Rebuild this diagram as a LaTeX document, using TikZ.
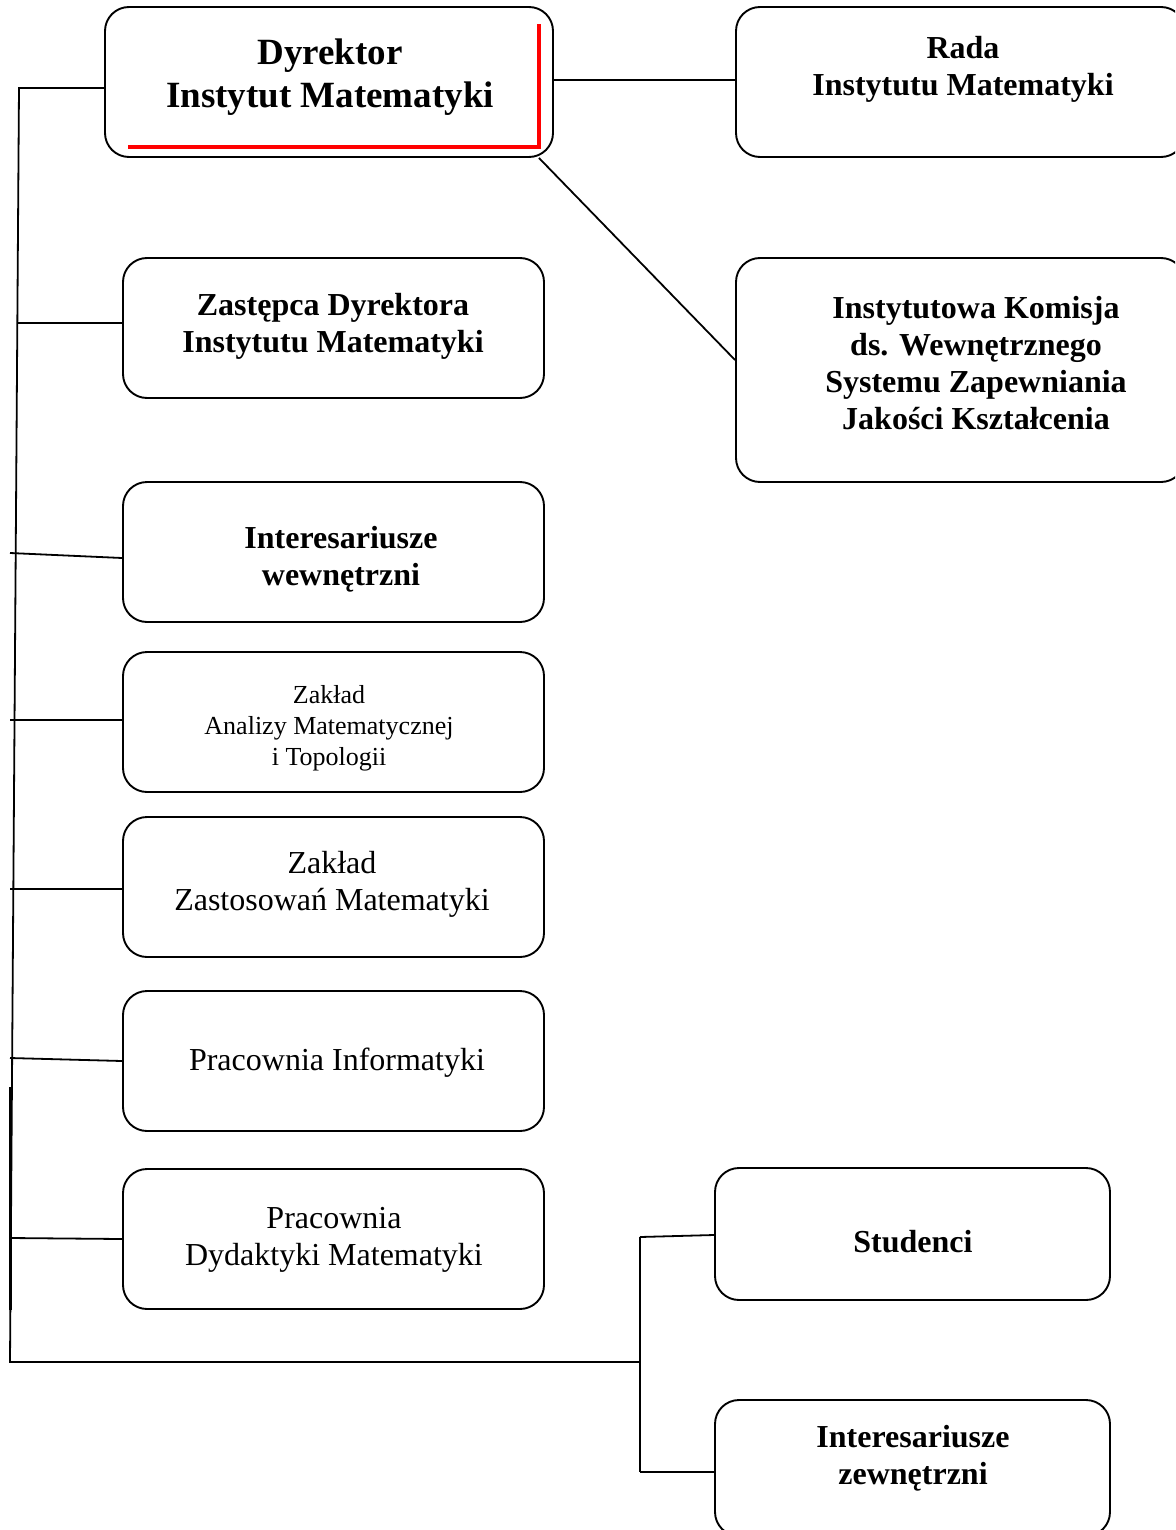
\documentclass[tikz,border=0pt]{standalone}
\usepackage{fontspec}
\setmainfont{Liberation Serif}
\begin{document}
\begin{tikzpicture}[x=1pt,y=-1pt,
  box/.style={draw, line width=1.9pt, rounded corners=24pt, inner sep=0pt},
  lbox/.style={box, minimum width=421pt, minimum height=140pt},
  conn/.style={line width=1.8pt},
  tbig/.style={align=center, inner sep=0pt, font=\fontsize{37}{43}\selectfont\bfseries},
  tbold/.style={align=center, inner sep=0pt, font=\fontsize{32}{37}\selectfont\bfseries},
  treg/.style={align=center, inner sep=0pt, font=\fontsize{32}{37}\selectfont},
  tsmall/.style={align=center, inner sep=0pt, font=\fontsize{26}{31}\selectfont}]
\useasboundingbox (0,0) rectangle (1175,1530);
\clip (0,0) rectangle (1175,1530);

% boxes
\node[box, minimum width=448pt, minimum height=150pt] (dyr) at (329,82) {};
\node[box, minimum width=449pt, minimum height=150pt] (rada) at (960.5,82) {};
\node[lbox] (zast) at (333.5,328) {};
\node[box, minimum width=449pt, minimum height=224pt] (kom) at (960.5,370) {};
\node[lbox] (iw) at (333.5,552) {};
\node[lbox] (zamt) at (333.5,722) {};
\node[lbox] (zzm) at (333.5,887) {};
\node[lbox] (pi) at (333.5,1061) {};
\node[lbox] (pdm) at (333.5,1239) {};
\node[box, minimum width=395pt, minimum height=132pt] (stud) at (912.5,1234) {};
\node[box, minimum width=395pt, minimum height=136pt] (iz) at (912.5,1468) {};

% red accent
\draw[red, line width=4.5pt] (128,147) -- (539,147) -- (539,24);

% texts
\node[tbig] (dyrT) at (330,77) {Dyrektor\\Instytut Matematyki};
\node[tbold] (radaT) at (963,69.5) {Rada\\Instytutu Matematyki};
\node[tbold] (zastT) at (333,326.5) {Zastępca Dyrektora\\Instytutu Matematyki};
\node[tbold] (komT) at (976,363.5) {Instytutowa Komisja\\ds. Wewnętrznego\\Systemu Zapewniania\\Jakości Kształcenia};
\node[tbold] (iwT) at (341,559.5) {Interesariusze\\wewnętrzni};
\node[tsmall] (zamtT) at (329,728) {Zakład\\Analizy Matematycznej\\i Topologii};
\node[treg] (zzmT) at (332,884.5) {Zakład\\Zastosowań Matematyki};
\node[treg] (piT) at (337,1063) {Pracownia Informatyki};
\node[treg] (pdmT) at (334,1239.5) {Pracownia\\Dydaktyki Matematyki};
\node[tbold] (studT) at (913,1242) {Studenci};
\node[tbold] (izT) at (913,1458) {Interesariusze\\zewnętrzni};

% connector coordinates
\coordinate (t0) at (19,88);
\coordinate (t1) at (10,1362);
\coordinate (bj) at (640,1362);
\coordinate (bt) at (640,1237);
\coordinate (bb) at (640,1472);
\coordinate (s1) at (18,323);
\coordinate (s2) at (10,553);
\coordinate (s3) at (10,720);
\coordinate (s4) at (10,889);
\coordinate (s5) at (10,1058);
\coordinate (s6) at (10,1238);
\coordinate (k0) at (10,1087);
\coordinate (k1) at (10,1310);

% connectors
\draw[conn] ([yshift=-6pt]dyr.west) -- (t0) -- (t1) -- (bj);
\draw[line width=3pt] (k0) -- (k1);
\draw[conn] ([yshift=5pt]zast.west) -- (s1);
\draw[conn] ([yshift=-6pt]iw.west) -- (s2);
\draw[conn] ([yshift=2pt]zamt.west) -- (s3);
\draw[conn] ([yshift=-2pt]zzm.west) -- (s4);
\draw[conn] (pi.west) -- (s5);
\draw[conn] (pdm.west) -- (s6);
\draw[conn] ([yshift=2pt]dyr.east) -- ([yshift=2pt]rada.west);
\draw[conn] ([xshift=-15pt]dyr.south east) -- ([yshift=10pt]kom.west);
\draw[conn] (bt) -- (bb);
\draw[conn] (bt) -- ([yshift=-1pt]stud.west);
\draw[conn] (bb) -- ([yshift=-4pt]iz.west);
\end{tikzpicture}
\end{document}
